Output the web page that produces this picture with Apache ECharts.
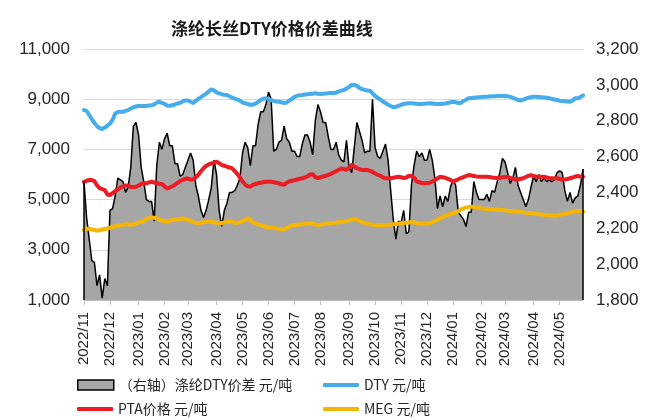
<!DOCTYPE html>
<html>
<head>
<meta charset="utf-8">
<script src="https://cdn.jsdelivr.net/npm/echarts@6/dist/echarts.min.js"></script>
<style>
  html, body { margin: 0; padding: 0; background: #fff; }
  #chart { width: 654px; height: 420px; }
</style>
</head>
<body>
<div id="chart"></div>
<script>
// Sampling dates: every third calendar day from 2022-11-01 to 2024-05-30
const dates = (function () {
  const out = [];
  const start = Date.UTC(2022, 10, 1);
  for (let k = 0; k < 193; k++) {
    const d = new Date(start + k * 3 * 86400000);
    const m = String(d.getUTCMonth() + 1).padStart(2, '0');
    const day = String(d.getUTCDate()).padStart(2, '0');
    out.push(d.getUTCFullYear() + '-' + m + '-' + day);
  }
  return out;
})();

// DTY spread (right axis), yuan/ton
const spread = [
  2460, 2260, 2140, 2020, 2010, 1880, 1940, 1810, 1920, 1880,
  2300, 2310, 2380, 2480, 2470, 2460, 2400, 2430, 2540, 2770,
  2790, 2720, 2540, 2460, 2360, 2350, 2350, 2240, 2550, 2680,
  2640, 2700, 2730, 2660, 2660, 2560, 2560, 2490, 2500, 2540,
  2580, 2620, 2580, 2440, 2380, 2300, 2260, 2300, 2360, 2430,
  2580, 2500, 2300, 2210, 2300, 2340, 2400, 2400, 2410, 2440,
  2480, 2620, 2680, 2650, 2550, 2660, 2660, 2780, 2850, 2850,
  2890, 2960, 2920, 2630, 2640, 2680, 2690, 2770, 2700, 2680,
  2630, 2630, 2600, 2600, 2670, 2720, 2720, 2680, 2610, 2800,
  2890, 2850, 2790, 2790, 2710, 2640, 2640, 2680, 2610, 2580,
  2570, 2690, 2540, 2510, 2650, 2790, 2740, 2690, 2620, 2630,
  2630, 2920, 2650, 2600, 2590, 2630, 2670, 2580, 2410, 2250,
  2140, 2240, 2230, 2300, 2170, 2180, 2440, 2550, 2630, 2600,
  2620, 2580, 2580, 2640, 2580, 2480, 2310, 2380, 2320, 2380,
  2350, 2430, 2470, 2440, 2290, 2270, 2250, 2210, 2290, 2290,
  2460, 2400, 2360, 2360, 2360, 2390, 2350, 2410, 2400, 2460,
  2510, 2590, 2570, 2510, 2450, 2480, 2540, 2440, 2400, 2360,
  2320, 2360, 2430, 2490, 2460, 2500, 2460, 2480, 2460, 2470,
  2460, 2470, 2510, 2520, 2510, 2410, 2350, 2400, 2340, 2370,
  2380, 2440, 2530
];

// DTY price, yuan/ton
const dty = [
  8570, 8530, 8370, 8210, 8050, 7930, 7850, 7810, 7870, 7950,
  8030, 8170, 8430, 8490, 8500, 8500, 8530, 8570, 8630, 8680,
  8710, 8730, 8730, 8730, 8730, 8750, 8760, 8790, 8870, 8900,
  8850, 8810, 8750, 8740, 8760, 8790, 8830, 8860, 8910, 8950,
  8950, 8900, 8850, 8930, 9010, 9080, 9150, 9220, 9310, 9390,
  9350, 9270, 9230, 9200, 9180, 9170, 9120, 9060, 9020, 8980,
  8940, 8870, 8840, 8810, 8770, 8790, 8820, 8890, 8970, 9020,
  9040, 9010, 8960, 8930, 8910, 8900, 8880, 8850, 8870, 8950,
  9010, 9090, 9130, 9160, 9170, 9190, 9200, 9210, 9220, 9240,
  9220, 9210, 9220, 9230, 9240, 9250, 9250, 9260, 9310, 9340,
  9370, 9430, 9490, 9570, 9570, 9530, 9450, 9400, 9370, 9350,
  9340, 9230, 9130, 9050, 8990, 8910, 8850, 8780, 8730, 8680,
  8700, 8730, 8770, 8810, 8830, 8840, 8840, 8830, 8820, 8810,
  8810, 8820, 8830, 8840, 8830, 8820, 8810, 8810, 8820, 8830,
  8850, 8880, 8900, 8880, 8850, 8850, 8930, 8980, 9040, 9050,
  9060, 9070, 9080, 9090, 9100, 9100, 9110, 9120, 9120, 9130,
  9130, 9130, 9130, 9120, 9090, 9060, 9010, 8970, 8950, 8980,
  9020, 9060, 9080, 9100, 9100, 9090, 9080, 9070, 9060, 9040,
  9010, 8990, 8970, 8940, 8930, 8920, 8910, 8900, 8950, 9040,
  9040, 9090, 9150
];

// PTA price, yuan/ton
const pta = [
  5710, 5750, 5780, 5780, 5740, 5570, 5460, 5420, 5380, 5200,
  5180, 5260, 5340, 5400, 5480, 5530, 5560, 5560, 5500, 5500,
  5510, 5560, 5630, 5650, 5650, 5680, 5710, 5680, 5650, 5630,
  5620, 5520, 5450, 5480, 5530, 5600, 5670, 5740, 5790, 5830,
  5840, 5800, 5810, 5890, 5990, 6130, 6250, 6350, 6400, 6440,
  6470, 6510, 6450, 6380, 6350, 6310, 6280, 6240, 6130, 6020,
  5880, 5720, 5600, 5530, 5520, 5590, 5620, 5650, 5670, 5690,
  5710, 5710, 5710, 5690, 5670, 5650, 5610, 5590, 5670, 5730,
  5750, 5770, 5800, 5830, 5850, 5890, 5930, 6000, 6010, 5900,
  5860, 5890, 5920, 5950, 5980, 6030, 6080, 6130, 6190, 6240,
  6220, 6190, 6280, 6380, 6320, 6250, 6210, 6180, 6180, 6180,
  6140, 6100, 6040, 5990, 5950, 5890, 5850, 5850, 5850, 5870,
  5890, 5910, 5890, 5860, 5880, 5950, 5940, 5880, 5720, 5690,
  5660, 5650, 5660, 5670, 5720, 5780, 5840, 5910, 5890, 5870,
  5830, 5780, 5720, 5770, 5810, 5860, 5900, 5940, 5980, 5960,
  5940, 5920, 5910, 5910, 5910, 5910, 5900, 5880, 5870, 5850,
  5870, 5890, 5900, 5900, 5870, 5830, 5800, 5800, 5830, 5850,
  5900, 5950, 5970, 5940, 5920, 5910, 5910, 5910, 5880, 5850,
  5850, 5850, 5850, 5820, 5790, 5800, 5820, 5850, 5880, 5920,
  5940, 5920, 5910
];

// MEG price, yuan/ton
const meg = [
  3790, 3830, 3850, 3810, 3790, 3770, 3780, 3810, 3830, 3850,
  3880, 3910, 3940, 3970, 3990, 4000, 4020, 4020, 4000, 4010,
  4040, 4080, 4110, 4160, 4220, 4260, 4290, 4280, 4260, 4210,
  4160, 4140, 4120, 4160, 4190, 4200, 4220, 4240, 4250, 4230,
  4200, 4150, 4100, 4070, 4060, 4080, 4100, 4120, 4120, 4120,
  4100, 4080, 4070, 4060, 4090, 4120, 4120, 4110, 4080, 4070,
  4100, 4140, 4200, 4250, 4200, 4100, 4050, 4010, 3980, 3950,
  3920, 3890, 3880, 3870, 3850, 3840, 3830, 3820, 3870, 3920,
  3960, 3980, 4000, 4010, 4020, 4040, 4050, 4060, 4040, 4010,
  3990, 4000, 4020, 4040, 4050, 4060, 4070, 4080, 4100, 4110,
  4120, 4140, 4170, 4200, 4220, 4200, 4150, 4100, 4060, 4040,
  4020, 4000, 3990, 3990, 3990, 3990, 3990, 4000, 4000, 4020,
  4030, 4040, 4060, 4070, 4080, 4090, 4110, 4090, 4060, 4040,
  4040, 4040, 4050, 4060, 4100, 4150, 4200, 4250, 4310, 4360,
  4390, 4430, 4450, 4490, 4540, 4600, 4650, 4680, 4710, 4720,
  4710, 4690, 4670, 4650, 4640, 4630, 4630, 4620, 4610, 4600,
  4590, 4590, 4570, 4560, 4550, 4540, 4530, 4520, 4510, 4500,
  4480, 4470, 4450, 4450, 4430, 4420, 4410, 4400, 4390, 4390,
  4370, 4370, 4370, 4390, 4420, 4430, 4450, 4490, 4510, 4540,
  4550, 4550, 4520
];

const seriesNames = ['（右轴）涤纶DTY价差 元/吨', 'DTY 元/吨', 'PTA价格 元/吨', 'MEG 元/吨'];
const titleText = '涤纶长丝DTY价格价差曲线';

const colors = { area: '#a6a6a6', dty: '#46adea', pta: '#ec1c24', meg: '#f5b500' };
const cjk = 'Noto Sans CJK SC';
const latin = 'Liberation Sans';

// A label/tick sits on the first sample of each month
function isMonthStart(idx, value) {
  return idx === 0 || dates[idx - 1].slice(0, 7) !== value.slice(0, 7);
}
const thousands = v => Number(v).toLocaleString('en-US');

// One legend block per entry, laid out as a 2 x 2 grid under the plot
const legendText = { fontFamily: cjk, fontSize: 14, color: '#262626' };
function legendFor(name, left, top, icon, h, extra) {
  const item = Object.assign({ name: name, icon: icon }, extra || {});
  return {
    data: [item], left: left, top: top, padding: 0,
    itemWidth: 36, itemHeight: h, itemGap: 0,
    selectedMode: false, textStyle: legendText
  };
}

const last = dates.length - 1;
const edgeLine = { color: '#000', width: 1.5, type: 'solid' };

const option = {
  animation: false,
  backgroundColor: '#fff',
  title: {
    text: titleText, left: 171, top: 20, padding: 0,
    textStyle: { fontFamily: cjk, fontSize: 17, fontWeight: 'bold', color: '#1a1a1a' }
  },
  grid: { left: 84, right: 71, top: 49, bottom: 120 },
  legend: [
    legendFor(seriesNames[0], 77, 378, 'rect', 10,
      { itemStyle: { color: colors.area, borderColor: '#000', borderWidth: 1.5 } }),
    legendFor(seriesNames[1], 323, 378, 'roundRect', 4, { itemStyle: { color: colors.dty } }),
    legendFor(seriesNames[2], 77, 402, 'roundRect', 4, { itemStyle: { color: colors.pta } }),
    legendFor(seriesNames[3], 323, 402, 'roundRect', 4, { itemStyle: { color: colors.meg } })
  ],
  xAxis: {
    type: 'category',
    data: dates,
    boundaryGap: false,
    axisLine: { lineStyle: { color: '#bfbfbf', width: 1 } },
    axisTick: { show: true, interval: isMonthStart, length: 5, lineStyle: { color: '#bfbfbf' } },
    axisLabel: {
      interval: isMonthStart, rotate: 90, margin: 12,
      formatter: v => v.slice(0, 4) + '/' + v.slice(5, 7),
      fontFamily: latin, fontSize: 15, color: '#262626'
    },
    splitLine: { show: false }
  },
  yAxis: [
    {
      type: 'value', position: 'left', min: 1000, max: 11000, interval: 2000,
      axisLine: { show: false }, axisTick: { show: false },
      splitLine: { lineStyle: { color: '#d9d9d9', width: 1 } },
      axisLabel: { formatter: thousands, fontFamily: latin, fontSize: 17, color: '#262626', margin: 14 }
    },
    {
      type: 'value', position: 'right', min: 1800, max: 3200, interval: 200,
      axisLine: { show: false }, axisTick: { show: false },
      splitLine: { show: false },
      axisLabel: { formatter: thousands, fontFamily: latin, fontSize: 17, color: '#262626', margin: 13 }
    }
  ],
  series: [
    {
      name: seriesNames[0], type: 'line', yAxisIndex: 1, data: spread,
      symbol: 'none', z: 1,
      itemStyle: { color: colors.area },
      lineStyle: { color: '#000', width: 1.5 },
      areaStyle: { color: colors.area, opacity: 1, origin: 'start' },
      emphasis: { disabled: true },
      markLine: {
        silent: true, symbol: ['none', 'none'], label: { show: false },
        lineStyle: edgeLine, emphasis: { disabled: true },
        data: [
          [{ coord: [dates[0], 1800] }, { coord: [dates[0], spread[0]] }],
          [{ coord: [dates[last], 1800] }, { coord: [dates[last], spread[last]] }]
        ]
      }
    },
    {
      name: seriesNames[1], type: 'line', yAxisIndex: 0, data: dty, symbol: 'none', z: 3,
      itemStyle: { color: colors.dty },
      lineStyle: { color: colors.dty, width: 4, cap: 'round', join: 'round' },
      emphasis: { disabled: true }
    },
    {
      name: seriesNames[2], type: 'line', yAxisIndex: 0, data: pta, symbol: 'none', z: 3,
      itemStyle: { color: colors.pta },
      lineStyle: { color: colors.pta, width: 4, cap: 'round', join: 'round' },
      emphasis: { disabled: true }
    },
    {
      name: seriesNames[3], type: 'line', yAxisIndex: 0, data: meg, symbol: 'none', z: 3,
      itemStyle: { color: colors.meg },
      lineStyle: { color: colors.meg, width: 4, cap: 'round', join: 'round' },
      emphasis: { disabled: true }
    }
  ]
};

const chart = echarts.init(document.getElementById('chart'), null, { renderer: 'canvas' });
chart.setOption(option);
</script>
</body>
</html>
